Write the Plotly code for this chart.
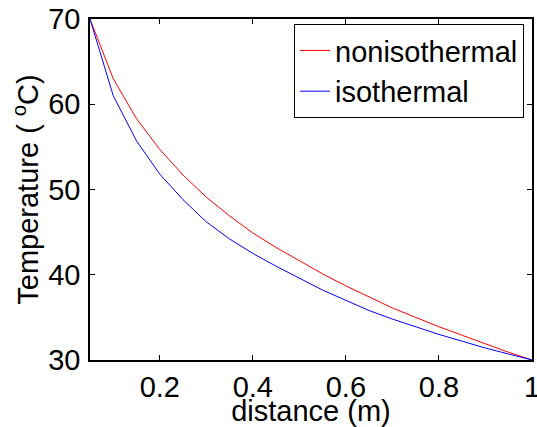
import plotly.graph_objects as go

distance = [0.05, 0.10, 0.15, 0.20, 0.25, 0.30, 0.35, 0.40, 0.45, 0.50,
            0.55, 0.60, 0.65, 0.70, 0.75, 0.80, 0.85, 0.90, 0.95, 1.00]
nonisothermal = [70.0, 63.0, 58.3, 54.7, 51.7, 49.1, 46.9, 44.9, 43.2, 41.6,
                 40.1, 38.7, 37.4, 36.1, 35.0, 33.9, 32.9, 31.9, 30.9, 30.0]
isothermal = [70.0, 61.0, 55.7, 51.8, 48.8, 46.2, 44.2, 42.5, 41.0, 39.6,
              38.2, 37.0, 35.8, 34.8, 33.9, 33.0, 32.2, 31.4, 30.7, 30.0]
x_ticks = [0.2, 0.4, 0.6, 0.8, 1.0]
x_ticklabels = ["0.2", "0.4", "0.6", "0.8", "1"]
y_ticks = [30, 40, 50, 60, 70]

FONT = "Liberation Sans, Arial, sans-serif"
FS = 29

fig = go.Figure()
fig.add_trace(go.Scatter(x=distance, y=nonisothermal, mode="lines", name="nonisothermal",
                         line=dict(color="#ff0000", width=1)))
fig.add_trace(go.Scatter(x=distance, y=isothermal, mode="lines", name="isothermal",
                         line=dict(color="#0000ff", width=1)))

axis_common = dict(showgrid=False, zeroline=False, showline=True, linecolor="black",
                   linewidth=1.5, mirror="ticks", ticks="inside", ticklen=5,
                   tickcolor="black", tickwidth=1, automargin=False,
                   ticklabeloverflow="allow",
                   tickfont=dict(family=FONT, size=FS, color="black"))

fig.update_layout(
    width=537, height=427,
    margin=dict(l=90, r=5, t=19, b=67),
    paper_bgcolor="white", plot_bgcolor="white",
    font=dict(family=FONT, size=FS, color="black"),
    xaxis=dict(range=[0.05, 1.0], tickvals=x_ticks, ticktext=x_ticklabels,
               title=dict(text="distance (m)", standoff=1,
                          font=dict(family=FONT, size=FS, color="black")),
               **axis_common),
    yaxis=dict(range=[30, 70], tickvals=y_ticks, ticklabelstandoff=2,
               title=dict(text="Temperature ( <sup>o</sup>C)", standoff=1,
                          font=dict(family=FONT, size=FS, color="black")),
               **axis_common),
    legend=dict(x=0.982, y=0.985, xanchor="right", yanchor="top",
                bgcolor="white", bordercolor="black", borderwidth=1,
                font=dict(family=FONT, size=FS, color="black"),
                itemwidth=30, tracegroupgap=0),
    showlegend=True,
)

fig.write_html("out.html", config={"displayModeBar": False},
               post_script="document.body.style.margin='0';document.body.style.overflow='hidden';")
